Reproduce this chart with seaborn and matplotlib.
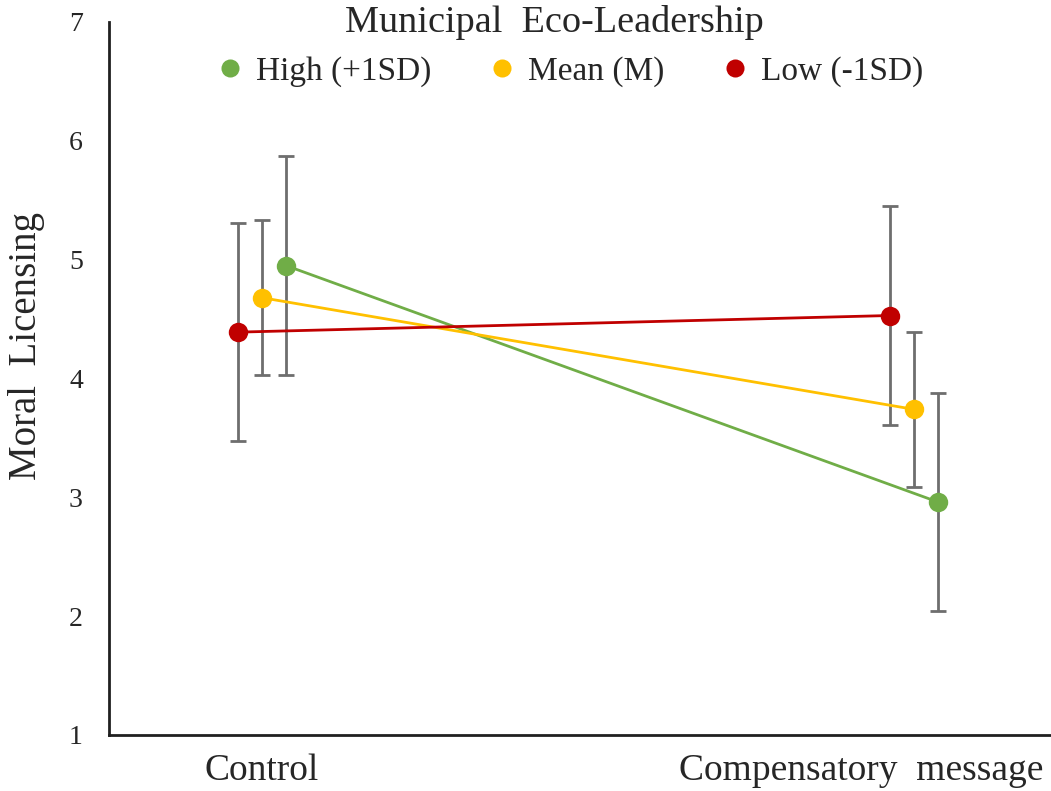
import matplotlib
matplotlib.use("Agg")
import matplotlib.pyplot as plt
from matplotlib.lines import Line2D
from matplotlib.transforms import ScaledTranslation
import numpy as np
import pandas as pd
import seaborn as sns

# Simple-slopes data: moral licensing by condition at three levels of the moderator
conditions = ["Control", "Compensatory  message"]
series = ["High (+1SD)", "Mean (M)", "Low (-1SD)"]
high_vals = [4.95, 2.96]
mean_vals = [4.68, 3.74]
low_vals = [4.39, 4.53]
high_err = [0.92, 0.92]
mean_err = [0.65, 0.65]
low_err = [0.92, 0.92]
yticks = [1, 2, 3, 4, 5, 6, 7]

colors = {"High (+1SD)": "#70AD47", "Mean (M)": "#FFC000", "Low (-1SD)": "#C00000"}
offsets = {"High (+1SD)": 0.037, "Mean (M)": 0.0, "Low (-1SD)": -0.037}

rows = []
for name, vals, errs in [("High (+1SD)", high_vals, high_err),
                         ("Mean (M)", mean_vals, mean_err),
                         ("Low (-1SD)", low_vals, low_err)]:
    for i, (v, e) in enumerate(zip(vals, errs)):
        rows.append({"series": name, "pos": i + offsets[name], "value": v, "err": e})
df = pd.DataFrame(rows)

sns.set_theme(style="white")
plt.rcParams["font.family"] = ["Liberation Serif", "DejaVu Serif"]

fig = plt.figure(figsize=(10.51, 7.91), dpi=100)
ax = fig.add_axes([0.104, 0.0708, 0.896, 0.9014])

# error bars underneath the lines and markers
for name in series:
    sub = df[df["series"] == name]
    ax.errorbar(sub["pos"], sub["value"], yerr=sub["err"], fmt="none",
                ecolor="#6E6E6E", elinewidth=2.0, capsize=5.5, capthick=2.0, zorder=1)

sns.lineplot(data=df, x="pos", y="value", hue="series", hue_order=series,
             palette=colors, marker="o", markersize=14, markeredgewidth=0,
             linewidth=2.0, legend=False, ax=ax, zorder=3, sort=True,
             estimator=None, units="series")

ax.set_xlim(-0.234, 1.21)
ax.set_ylim(1, 7)
ax.set_yticks(yticks)
ax.set_yticklabels([str(t) for t in yticks], fontsize=20)
ax.set_xticks([0, 1])
ax.set_xticklabels(conditions, fontsize=27)
ax.tick_params(axis="y", length=0, pad=19)
ax.tick_params(axis="x", length=0, pad=13)
ax.set_xlabel("")
ax.set_ylabel("Moral  Licensing", fontsize=28)
ax.yaxis.set_label_coords(-0.068, 0.545)

# keep the long category label inside the right edge
lab = ax.get_xticklabels()[1]
lab.set_horizontalalignment("right")
lab.set_transform(lab.get_transform() + ScaledTranslation(1.29, 0, fig.dpi_scale_trans))

for side in ["top", "right"]:
    ax.spines[side].set_visible(False)
for side in ["left", "bottom"]:
    ax.spines[side].set_color("#202020")
    ax.spines[side].set_linewidth(2.0)

fig.text(0.527, 1 - 23 / 791, "Municipal  Eco-Leadership", fontsize=27.5,
         ha="center", va="center")

handles = [Line2D([], [], marker="o", linestyle="none", color=colors[s],
                  markersize=13, markeredgewidth=0) for s in series]
leg = fig.legend(handles, series, loc="center", bbox_to_anchor=(0.543, 1 - 72 / 791),
                 ncol=3, frameon=False, fontsize=24,
                 handlelength=0.7, handletextpad=0.45,
                 columnspacing=1.75, borderaxespad=0.0, borderpad=0.0)

fig.savefig("out.png", dpi=100)
